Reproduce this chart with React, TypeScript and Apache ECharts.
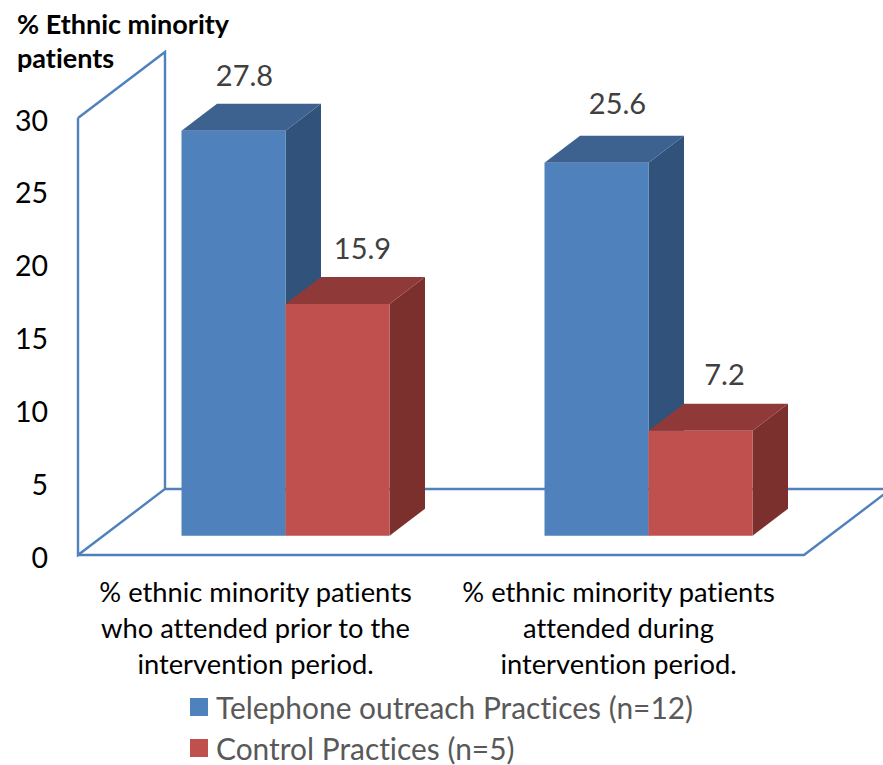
import React, { useEffect, useRef } from "react";
import * as echarts from "echarts";

const categories = [
  "% ethnic minority patients\nwho attended prior to the\nintervention period.",
  "% ethnic minority patients\nattended during\nintervention period.",
];
const outreachName = "Telephone outreach Practices (n=12)";
const controlName = "Control Practices (n=5)";
const outreachValues = [27.8, 25.6];
const controlValues = [15.9, 7.2];
const yTicks = { min: 0, max: 30, interval: 5 };
const axisTitle = "% Ethnic minority\npatients";

const FONT = "Lato, Carlito, sans-serif";

// Projection used for the pseudo-3D look, in pixels.
const WALL_DX = 87;
const WALL_DY = -66;
const BAR_DX = 35.5;
const BAR_DY = -27;
const BAR_LIFT = -19.3;
const BAR_SHIFT = 26;
const BAR_WIDTH = 104;

type Shade = { front: string; top: string; side: string };
const BLUE: Shade = { front: "#4f81bd", top: "#3e628f", side: "#31527a" };
const RED: Shade = { front: "#c0504d", top: "#8f3a38", side: "#7c302e" };

function barRenderer(shade: Shade, side: -1 | 1, labelDx: number[], labelDy: number[]) {
  return (params: any, api: any) => {
    const idx = api.value(0);
    const value = api.value(1);
    const top = api.coord([idx, value]);
    const base = api.coord([idx, 0]);
    const xMid = top[0] + BAR_SHIFT;
    const x0 = side < 0 ? xMid - BAR_WIDTH : xMid;
    const x1 = x0 + BAR_WIDTH;
    const yT = top[1] + BAR_LIFT;
    const yB = base[1] + BAR_LIFT;
    const poly = (points: number[][], fill: string) => ({
      type: "polygon",
      shape: { points },
      style: { fill },
    });
    return {
      type: "group",
      children: [
        poly(
          [
            [x1, yT],
            [x1 + BAR_DX, yT + BAR_DY],
            [x1 + BAR_DX, yB + BAR_DY],
            [x1, yB],
          ],
          shade.side
        ),
        poly(
          [
            [x0, yT],
            [x0 + BAR_DX, yT + BAR_DY],
            [x1 + BAR_DX, yT + BAR_DY],
            [x1, yT],
          ],
          shade.top
        ),
        poly(
          [
            [x0, yT],
            [x1, yT],
            [x1, yB],
            [x0, yB],
          ],
          shade.front
        ),
        {
          type: "text",
          style: {
            text: value.toFixed(1),
            x: (x0 + x1) / 2 + labelDx[idx],
            y: yT + labelDy[idx],
            align: "center",
            verticalAlign: "middle",
            fill: "#404040",
            font: `29px ${FONT}`,
          },
        },
      ],
    };
  };
}

// Left wall and floor of the chart box, outlined only.
function frameRenderer(params: any, api: any) {
  const a = api.coord([0, yTicks.max]);
  const b = api.coord([0, yTicks.min]);
  const rect = params.coordSys;
  const left = rect.x;
  const right = rect.x + rect.width;
  const top = a[1];
  const bottom = b[1];
  const style = { stroke: "#4f81bd", lineWidth: 2.4, fill: "none" };
  const line = (points: number[][]) => ({
    type: "polyline",
    shape: { points },
    style,
  });
  return {
    type: "group",
    children: [
      line([
        [left, top],
        [left + WALL_DX, top + WALL_DY],
        [left + WALL_DX, bottom + WALL_DY],
        [left, bottom],
        [left, top],
      ]),
      line([
        [left + WALL_DX, bottom + WALL_DY],
        [right + WALL_DX, bottom + WALL_DY],
        [right, bottom],
        [left, bottom],
      ]),
    ],
  };
}

// One legend block per row, so the rows stack under each other.
function legendRow(name: string, top: number) {
  return {
    orient: "horizontal",
    left: 190,
    top,
    itemWidth: 18,
    itemHeight: 18,
    padding: 0,
    icon: "rect",
    data: [name],
    textStyle: {
      fontFamily: FONT,
      fontSize: 29.9,
      color: "#595959",
      lineHeight: 24,
      padding: [0, 0, 0, 3],
    },
  };
}

export default function App() {
  const ref = useRef<HTMLDivElement>(null);

  useEffect(() => {
    const chart = echarts.init(ref.current!, undefined, { renderer: "svg" });
    chart.setOption({
      animation: false,
      backgroundColor: "#ffffff",
      title: {
        text: axisTitle,
        left: 17,
        top: 6,
        padding: 0,
        textStyle: {
          fontFamily: FONT,
          fontSize: 27,
          fontWeight: "bold",
          color: "#000000",
          lineHeight: 34,
        },
      },
      grid: { left: 78, width: 726, top: 118, height: 437, containLabel: false },
      xAxis: {
        type: "category",
        data: categories,
        axisLine: { show: false },
        axisTick: { show: false },
        axisLabel: {
          interval: 0,
          margin: 18,
          padding: [0, 8, 0, 0],
          fontFamily: FONT,
          fontSize: 27.3,
          lineHeight: 36,
          color: "#000000",
        },
      },
      yAxis: {
        type: "value",
        min: yTicks.min,
        max: yTicks.max,
        interval: yTicks.interval,
        splitLine: { show: false },
        axisLine: { show: false },
        axisTick: { show: false },
        axisLabel: {
          margin: 30,
          formatter: "{n|{value}}",
          rich: {
            n: {
              padding: [3, 0, 0, 0],
              fontFamily: FONT,
              fontSize: 28.5,
              color: "#000000",
            },
          },
        },
      },
      legend: [legendRow(outreachName, 692), legendRow(controlName, 733)],
      series: [
        {
          name: "frame",
          type: "custom",
          silent: true,
          clip: false,
          data: [[0, 0]],
          encode: { x: 0, y: 1 },
          renderItem: frameRenderer,
        },
        {
          name: outreachName,
          type: "custom",
          clip: false,
          itemStyle: { color: BLUE.front },
          data: outreachValues.map((v, i) => [i, v]),
          encode: { x: 0, y: 1 },
          renderItem: barRenderer(BLUE, -1, [11, 21], [-56, -60]),
        },
        {
          name: controlName,
          type: "custom",
          clip: false,
          itemStyle: { color: RED.front },
          data: controlValues.map((v, i) => [i, v]),
          encode: { x: 0, y: 1 },
          renderItem: barRenderer(RED, 1, [25, 24], [-57, -57]),
        },
      ],
    });
    return () => chart.dispose();
  }, []);

  return (
    <div
      ref={ref}
      style={{
        position: "absolute",
        left: 0,
        top: 0,
        width: 883,
        height: 765,
        fontVariantLigatures: "none",
      }}
    />
  );
}
